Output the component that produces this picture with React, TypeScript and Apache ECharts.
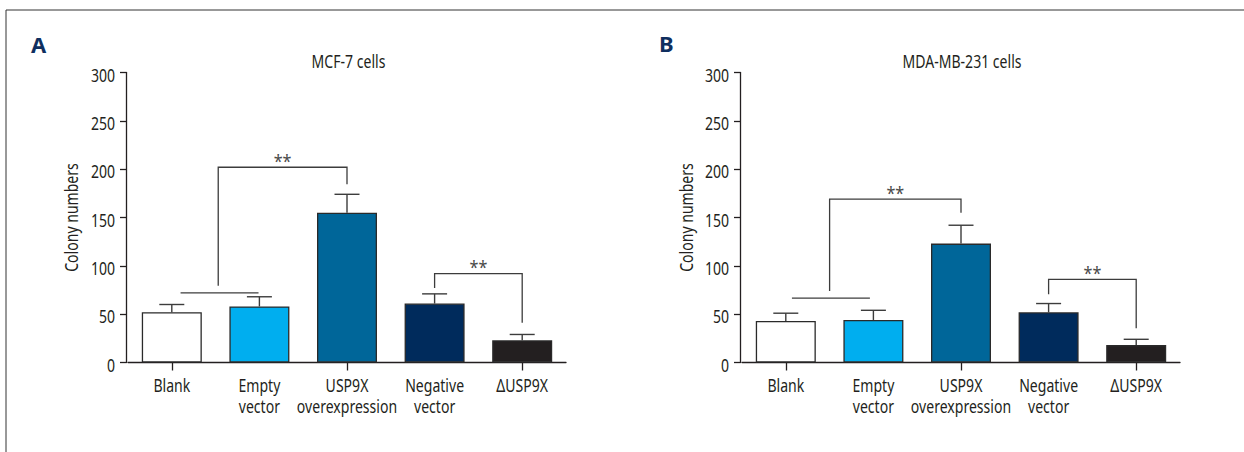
import React, { useEffect, useRef } from "react";
import * as echarts from "echarts";

const categories = ["Blank", "Empty\nvector", "USP9X\noverexpression", "Negative\nvector", "ΔUSP9X"];
const barColors = ["#ffffff", "#00aeef", "#006699", "#002b5c", "#231f20"];
const yTickValues = [0, 50, 100, 150, 200, 250, 300];
const yTicks = { min: 0, max: 300, interval: 50 };

const mcf7Means = [52, 58, 155, 61, 23];
const mcf7Errors = [8, 10, 19, 10, 6];
const mdaMeans = [43, 44, 123, 52, 18];
const mdaErrors = [8, 10, 19, 9, 6];

// group lines joining Blank and Empty vector: [from (category units), to, value]
const mcf7Group = [[0.1, 0.99, 72]];
const mdaGroup = [[0.07, 0.96, 66.5]];
// brackets: [from, to, leftBase, top, rightBase]
const mcf7Brackets = [
  [0.53, 2, 79.5, 202, 184.5],
  [3, 4, 77, 92, 41],
];
const mdaBrackets = [
  [0.5, 2, 74, 169, 155],
  [3, 4, 70.7, 86, 35.5],
];
const starLabel = "**";
const yName = "Colony numbers";
const titles = ["MCF-7 cells", "MDA-MB-231 cells"];
const panelLetters = ["A", "B"];

const FONT = '"Noto Sans", "Open Sans", sans-serif';
const FS = 18.5;
const SX = 0.76;
const INK = "#231f20";
const LINE = "#3c3c3c";

function panel(idx: number, means: number[], errors: number[], group: number[][], brackets: number[][]) {
  const barData = means.map((m, i) => ({
    value: m,
    itemStyle: { color: barColors[i], borderColor: "#2a2a2a", borderWidth: 1.3 },
  }));
  const errData = means.map((m, i) => [i, m, errors[i]]);
  const base = { xAxisIndex: idx, yAxisIndex: idx };
  const series: any[] = [
    {
      ...base,
      type: "custom",
      z: 1,
      data: errData,
      renderItem: (params: any, api: any) => {
        const x = api.value(0);
        const m = api.value(1);
        const e = api.value(2);
        const p0 = api.coord([x, m]);
        const p1 = api.coord([x, m + e]);
        const st = { stroke: LINE, lineWidth: 1.4 };
        return {
          type: "group",
          children: [
            { type: "line", shape: { x1: p0[0], y1: p0[1], x2: p1[0], y2: p1[1] }, style: st },
            { type: "line", shape: { x1: p1[0] - 12.5, y1: p1[1], x2: p1[0] + 12.5, y2: p1[1] }, style: st },
          ],
        };
      },
    },
    {
      ...base,
      type: "bar",
      z: 2,
      barWidth: 60,
      data: barData,
    },
    {
      ...base,
      type: "custom",
      z: 3,
      data: group.map((g, i) => [i, g[2]]),
      renderItem: (params: any, api: any) => {
        const g = group[params.dataIndex];
        const c0 = api.coord([0, g[2]]);
        const band = api.size([1, 0])[0];
        return {
          type: "line",
          shape: { x1: c0[0] + g[0] * band, y1: c0[1], x2: c0[0] + g[1] * band, y2: c0[1] },
          style: { stroke: LINE, lineWidth: 1.3 },
        };
      },
    },
    {
      ...base,
      type: "custom",
      z: 3,
      data: brackets.map((b, i) => [i, b[3]]),
      renderItem: (params: any, api: any) => {
        const b = brackets[params.dataIndex];
        const c0 = api.coord([0, 0])[0];
        const band = api.size([1, 0])[0];
        const xl = c0 + b[0] * band;
        const xr = c0 + b[1] * band;
        const yl = api.coord([0, b[2]])[1];
        const yt = api.coord([0, b[3]])[1];
        const yr = api.coord([0, b[4]])[1];
        return {
          type: "group",
          children: [
            {
              type: "polyline",
              shape: { points: [[xl, yl], [xl, yt], [xr, yt], [xr, yr]] },
              style: { stroke: LINE, lineWidth: 1.3, fill: "none" },
            },
            {
              type: "text",
              x: (xl + xr) / 2,
              y: yt - 6,
              scaleX: 0.9,
              style: {
                text: starLabel,
                fill: "#4a4a4a",
                font: `18px ${FONT}`,
                align: "center",
                verticalAlign: "middle",
              },
            },
          ],
        };
      },
    },
    // category labels (condensed look)
    {
      ...base,
      type: "custom",
      z: 4,
      silent: true,
      data: categories.map((c, i) => [i, 0]),
      renderItem: (params: any, api: any) => {
        const p = api.coord([api.value(0), 0]);
        return {
          type: "text",
          x: p[0],
          y: p[1] + 12,
          scaleX: SX,
          style: {
            text: categories[params.dataIndex],
            fill: INK,
            font: `${FS}px ${FONT}`,
            lineHeight: 20.5,
            align: "center",
            verticalAlign: "top",
          },
        };
      },
    },
    // value labels on y axis
    {
      ...base,
      type: "custom",
      z: 4,
      silent: true,
      data: yTickValues.map((v) => [0, v]),
      renderItem: (params: any, api: any) => {
        const p = api.coord([0, api.value(1)]);
        return {
          type: "text",
          x: params.coordSys.x - 13,
          y: p[1] + 2,
          scaleX: SX,
          style: {
            text: String(yTickValues[params.dataIndex]),
            fill: INK,
            font: `${FS}px ${FONT}`,
            align: "right",
            verticalAlign: "middle",
          },
        };
      },
    },
  ];
  return series;
}

function axisX(idx: number) {
  return {
    type: "category",
    gridIndex: idx,
    data: categories,
    axisLine: { show: true, lineStyle: { color: INK, width: 1.3 } },
    axisTick: { show: true, alignWithLabel: true, length: 8, lineStyle: { color: INK, width: 1.3 } },
    axisLabel: { show: false },
    splitLine: { show: false },
  };
}

function axisY(idx: number) {
  return {
    type: "value",
    gridIndex: idx,
    min: yTicks.min,
    max: yTicks.max,
    interval: yTicks.interval,
    offset: 2,
    axisLine: { show: true, lineStyle: { color: INK, width: 1.3 } },
    axisTick: { show: true, length: 6, lineStyle: { color: INK, width: 1.3 } },
    axisLabel: { show: false },
    splitLine: { show: false },
  };
}

function txt(text: string, x: number, y: number, extra: any = {}) {
  return {
    type: "text",
    x,
    y,
    scaleX: SX,
    silent: true,
    ...extra,
    style: { text, fill: INK, font: `${FS}px ${FONT}`, align: "center", verticalAlign: "middle", ...(extra.style || {}) },
  };
}

export default function App() {
  const ref = useRef<HTMLDivElement>(null);
  useEffect(() => {
    document.body.style.margin = "0";
    if (!ref.current) return;
    const chart = echarts.init(ref.current, undefined, { renderer: "svg" });
    chart.setOption({
      animation: false,
      backgroundColor: "#ffffff",
      grid: [
        { left: 128, top: 72.5, width: 438, height: 290 },
        { left: 742, top: 72.5, width: 438, height: 290 },
      ],
      xAxis: [axisX(0), axisX(1)],
      yAxis: [axisY(0), axisY(1)],
      series: [
        ...panel(0, mcf7Means, mcf7Errors, mcf7Group, mcf7Brackets),
        ...panel(1, mdaMeans, mdaErrors, mdaGroup, mdaBrackets),
      ],
      graphic: [
        {
          type: "polyline",
          silent: true,
          shape: { points: [[6, 452], [6, 10], [1244, 10]] },
          style: { stroke: "#333333", lineWidth: 1, fill: "none" },
        },
        {
          type: "text", x: 31, y: 33, silent: true,
          style: { text: panelLetters[0], fill: "#0f2f5f", font: `bold 22px "Noto Sans", "Open Sans", sans-serif` },
        },
        {
          type: "text", x: 659, y: 32, silent: true,
          style: { text: panelLetters[1], fill: "#0f2f5f", font: `bold 22px "Noto Sans", "Open Sans", sans-serif` },
        },
        txt(titles[0], 348.5, 61),
        txt(titles[1], 962, 61),
        txt(yName, 71, 217.5, { rotation: Math.PI / 2 }),
        txt(yName, 685.5, 217.5, { rotation: Math.PI / 2 }),
      ],
    });
    return () => chart.dispose();
  }, []);
  return <div ref={ref} style={{ width: 1244, height: 452 }} />;
}
